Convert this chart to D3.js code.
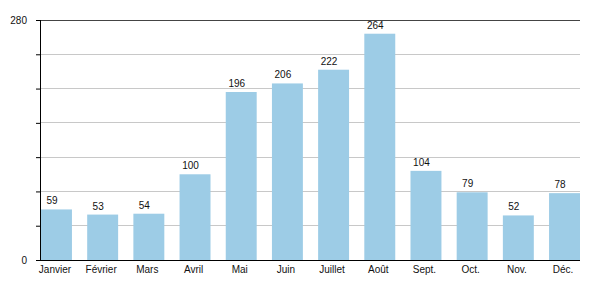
<!DOCTYPE html>
<html><head><meta charset="utf-8">
<script src="https://cdn.jsdelivr.net/npm/d3@7"></script>
<style>body{margin:0;background:#fff}svg{display:block}text{font-family:"Liberation Sans",Arial,sans-serif}</style>
</head><body>
<svg id="c" width="600" height="300"></svg>
<script>
const months = ["Janvier","Février","Mars","Avril","Mai","Juin","Juillet","Août","Sept.","Oct.","Nov.","Déc."];
const values = [59,53,54,100,196,206,222,264,104,79,52,78];
const yTickLabels = [0,280];
const gridValues = [40,80,120,160,200,240];

const svg = d3.select("#c");
const mLeft = 40, mRight = 580, mTop = 20, mBottom = 260;
const x = d3.scaleBand().domain(months).range([mLeft+1, mRight]).paddingInner(0.33).paddingOuter(0);
const y = d3.scaleLinear().domain([0,280]).range([mBottom, mTop]);

svg.append("g").selectAll("line").data(gridValues).join("line")
  .attr("x1", mLeft).attr("x2", mRight).attr("y1", d=>y(d)).attr("y2", d=>y(d))
  .attr("stroke", "#c8c8c8").attr("stroke-width", 1).attr("shape-rendering","crispEdges");
svg.append("line").attr("x1", mLeft).attr("x2", mRight).attr("y1", y(280)).attr("y2", y(280))
  .attr("stroke", "#444").attr("stroke-width", 1).attr("shape-rendering","crispEdges");

svg.append("g").selectAll("rect").data(values).join("rect")
  .attr("x", (d,i)=>x(months[i])).attr("width", x.bandwidth())
  .attr("y", d=>y(d)).attr("height", d=>y(0)-y(d))
  .attr("fill", "#9dcce6");

svg.append("g").selectAll("text").data(values).join("text")
  .attr("x", (d,i)=>x(months[i])+x.bandwidth()/2-4.5).attr("y", d=>y(d)-5)
  .attr("text-anchor","middle").attr("font-size", 10).attr("fill","#111").text(d=>d);

const yAxis = d3.axisLeft(y).tickValues(d3.range(0,281,40)).tickSize(4)
  .tickFormat(d => yTickLabels.includes(d) ? d : "");
const gy = svg.append("g").attr("transform", `translate(${mLeft},0)`).call(yAxis);
gy.select(".domain").remove();
gy.selectAll(".tick line").attr("stroke","#000");
gy.selectAll(".tick text").attr("font-size", 10).attr("fill","#111").attr("x", -13).attr("font-family","Liberation Sans, Arial, sans-serif");
svg.append("line").attr("x1", mLeft+0.5).attr("x2", mLeft+0.5).attr("y1", mTop).attr("y2", mBottom+0.5).attr("stroke","#000");
svg.append("line").attr("x1", mLeft-4).attr("x2", mRight).attr("y1", mBottom+0.5).attr("y2", mBottom+0.5).attr("stroke","#000");

svg.append("g").selectAll("text").data(months).join("text")
  .attr("x", d=>x(d)+x.bandwidth()/2-1.5).attr("y", 273)
  .attr("text-anchor","middle").attr("font-size", 10).attr("fill","#111").text(d=>d);
</script>
</body></html>
